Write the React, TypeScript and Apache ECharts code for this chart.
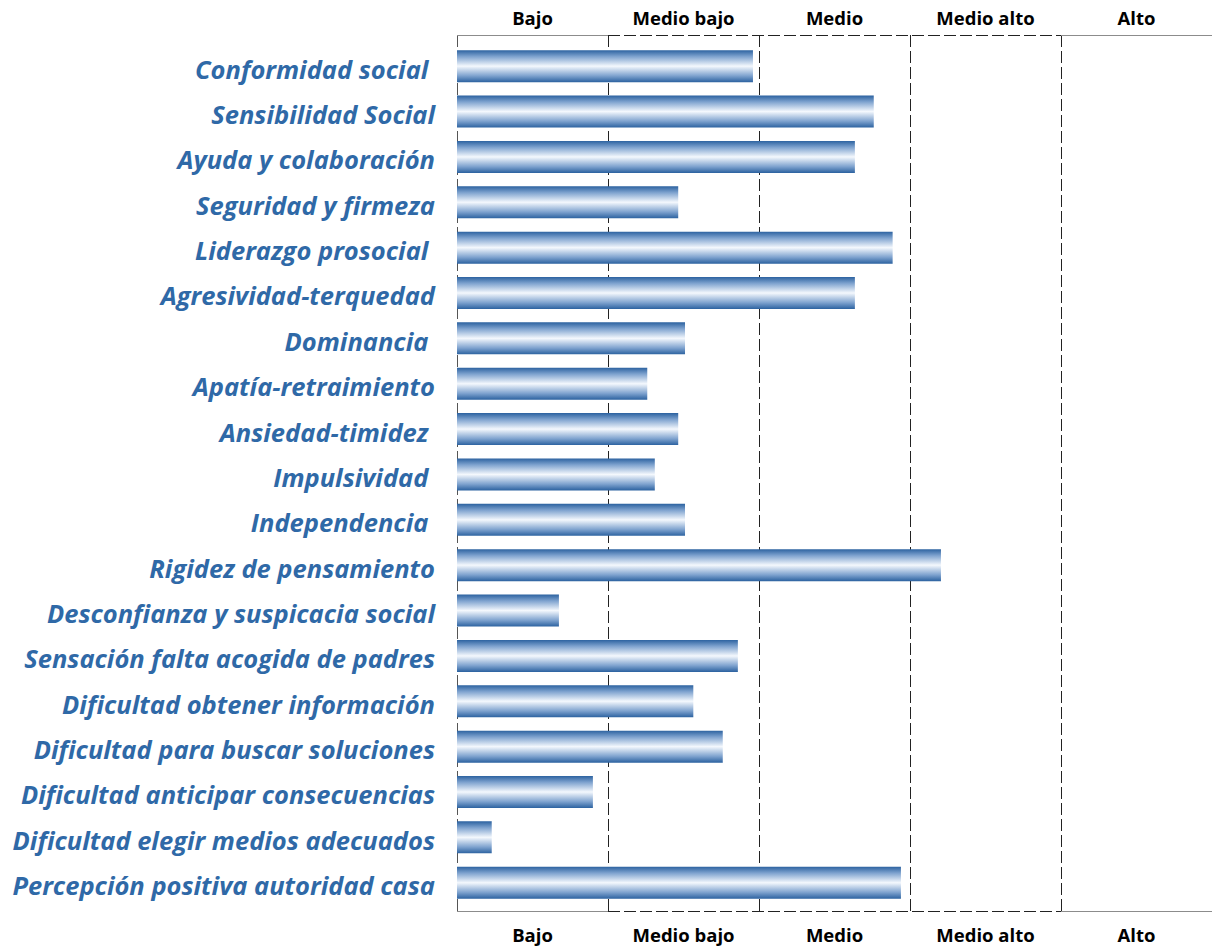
import React, { useEffect, useRef } from "react";
import * as echarts from "echarts";

const categories = [
  "Conformidad social ",
  "Sensibilidad Social",
  "Ayuda y colaboración",
  "Seguridad y firmeza",
  "Liderazgo prosocial ",
  "Agresividad-terquedad",
  "Dominancia ",
  "Apatía-retraimiento",
  "Ansiedad-timidez ",
  "Impulsividad ",
  "Independencia ",
  "Rigidez de pensamiento",
  "Desconfianza y suspicacia social",
  "Sensación falta acogida de padres",
  "Dificultad obtener información",
  "Dificultad para buscar soluciones",
  "Dificultad anticipar consecuencias",
  "Dificultad elegir medios adecuados",
  "Percepción positiva autoridad casa",
];

const values = [
  39.2, 55.2, 52.7, 29.3, 57.7, 52.7, 30.2, 25.2, 29.3, 26.2, 30.2, 64.1, 13.5,
  37.2, 31.3, 35.2, 18.0, 4.6, 58.8,
];

const bands = ["Bajo", "Medio bajo", "Medio", "Medio alto", "Alto"];
const bandEdges = [0, 20, 40, 60, 80, 100];

const LABEL_FONT = "'Open Sans', Lato, sans-serif";

export default function App() {
  const ref = useRef<HTMLDivElement>(null);

  useEffect(() => {
    if (!ref.current) return;
    const chart = echarts.init(ref.current, undefined, { renderer: "svg" });

    const solidGray = { color: "#8c8c8c", type: "solid" as const, width: 1 };
    const dashedBlack = { color: "#222", type: [12, 4] as any, width: 1 };
    const frameLines: any[] = [];
    [0, 1].forEach((yv) => {
      frameLines.push([
        { coord: [bandEdges[0], yv], lineStyle: solidGray },
        { coord: [bandEdges[1], yv] },
      ]);
      frameLines.push([
        { coord: [bandEdges[1], yv], lineStyle: dashedBlack },
        { coord: [bandEdges[4], yv] },
      ]);
      frameLines.push([
        { coord: [bandEdges[4], yv], lineStyle: solidGray },
        { coord: [bandEdges[5], yv] },
      ]);
    });

    const bandLabel = {
      fontFamily: LABEL_FONT,
      fontWeight: "bold" as const,
      fontSize: 18.5,
      color: "#000",
    };

    const catStyle = {
      fontFamily: LABEL_FONT,
      fontWeight: "bold" as const,
      fontStyle: "italic" as const,
      fontSize: 25.5,
      color: "#2F69A7",
    };

    chart.setOption({
      animation: false,
      grid: [
        { left: 457, right: 0, top: 35, bottom: 36 },
        { left: 457, right: 0, top: 43.5, bottom: 41.6 },
      ],
      xAxis: [
        {
          type: "category",
          gridIndex: 0,
          position: "top",
          data: bands,
          axisLine: { show: false },
          axisTick: { show: false },
          splitLine: { show: false },
          axisLabel: { ...bandLabel, margin: 8 },
        },
        {
          type: "category",
          gridIndex: 0,
          position: "bottom",
          data: bands,
          axisLine: { show: false },
          axisTick: { show: false },
          splitLine: { show: false },
          axisLabel: { ...bandLabel, margin: 14 },
        },
        {
          type: "value",
          gridIndex: 0,
          position: "bottom",
          min: 0,
          max: 100,
          interval: 20,
          axisLine: { show: false },
          axisTick: { show: false },
          axisLabel: { show: false },
          splitLine: {
            show: true,
            lineStyle: {
              color: ["#555", "#222", "#222", "#222", "#222", "rgba(0,0,0,0)"],
              type: [12, 4],
              width: 1,
            },
          },
        },
        {
          type: "value",
          gridIndex: 1,
          min: 0,
          max: 100,
          show: false,
        },
      ],
      yAxis: [
        {
          type: "value",
          gridIndex: 0,
          min: 0,
          max: 1,
          show: false,
        },
        {
          type: "category",
          gridIndex: 1,
          inverse: true,
          data: categories,
          axisLine: { show: false },
          axisTick: { show: false },
          axisLabel: {
            ...catStyle,
            margin: 22,
            formatter: (v: string) => `{a|${v}}`,
            rich: { a: { ...catStyle, padding: [5, 0, 0, 0] } },
          },
        },
      ],
      series: [
        {
          type: "line",
          xAxisIndex: 2,
          yAxisIndex: 0,
          data: [],
          silent: true,
          markLine: {
            silent: true,
            symbol: "none",
            label: { show: false },
            data: frameLines,
          },
        },
        {
          type: "bar",
          xAxisIndex: 3,
          yAxisIndex: 1,
          data: values,
          barWidth: 32,
          itemStyle: {
            color: new echarts.graphic.LinearGradient(0, 0, 0, 1, [
              { offset: 0, color: "#2C62A0" },
              { offset: 0.2, color: "#7FA3CF" },
              { offset: 0.5, color: "#F4F8FD" },
              { offset: 0.8, color: "#7FA3CF" },
              { offset: 1, color: "#2C62A0" },
            ]),
          },
        },
      ],
    });

    return () => chart.dispose();
  }, []);

  return (
    <div
      ref={ref}
      style={{ position: "absolute", left: 0, top: 0, width: 1212, height: 947 }}
    />
  );
}
